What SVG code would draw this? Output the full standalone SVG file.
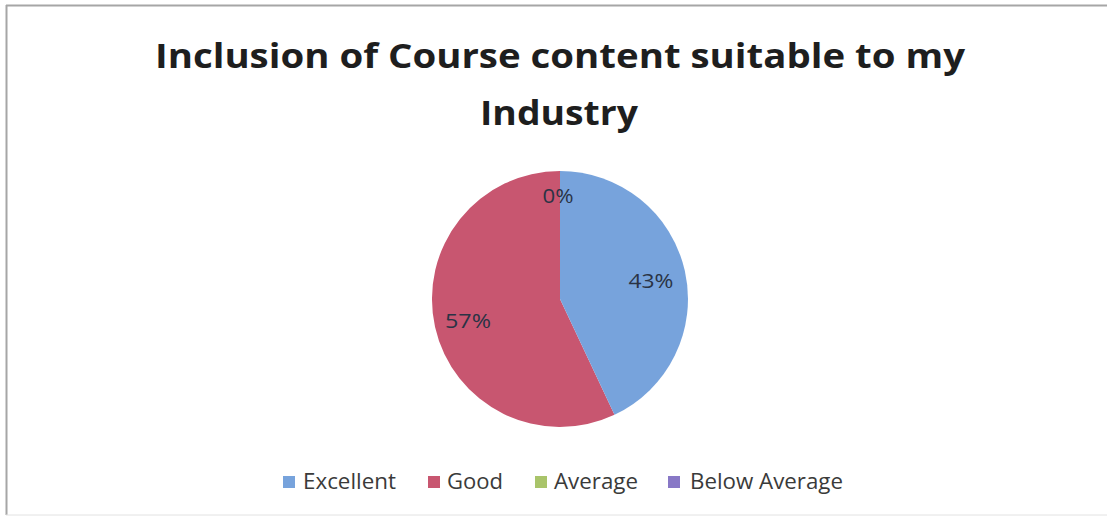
<svg xmlns="http://www.w3.org/2000/svg" width="1107" height="517" viewBox="0 0 1107 517">
<style>
.title{font-family:"Open Sans","Lato","Liberation Sans",sans-serif;font-weight:bold;font-size:34px;fill:#1e1e1e;text-anchor:middle}
.lbl{font-family:"Open Sans","Lato","Liberation Sans",sans-serif;font-size:20px;fill:#2a3345;text-anchor:middle}
.leg{font-family:"Open Sans","Lato","Liberation Sans",sans-serif;font-size:21px;fill:#3a3a3a}
</style>
<rect x="0" y="0" width="1107" height="517" fill="#ffffff"/>
<g id="frame">
<line x1="6" y1="5.5" x2="1107" y2="5.5" stroke="#a6a6a6" stroke-width="2"/>
<line x1="6.5" y1="5" x2="6.5" y2="515" stroke="#a6a6a6" stroke-width="2"/>
<line x1="6" y1="515" x2="1107" y2="515" stroke="#e2e2e2" stroke-width="1"/>
</g>
<g id="title">
<text class="title" x="560" y="68" textLength="810" lengthAdjust="spacingAndGlyphs">Inclusion of Course content suitable to my</text>
<text class="title" x="559" y="125" textLength="158" lengthAdjust="spacingAndGlyphs">Industry</text>
</g>
<g id="pie">
<g id="slice-good">
<path d="M560,299 L560,171 A128,128 0 1 0 614.5,414.8 Z" fill="#c85670"/>
</g>
<g id="slice-excellent">
<path d="M560,299 L560,171 A128,128 0 0 1 614.5,414.8 Z" fill="#77a3dc"/>
</g>
<g id="labels">
<text class="lbl" x="558" y="203" textLength="31" lengthAdjust="spacingAndGlyphs">0%</text>
<text class="lbl" x="651" y="288" textLength="45" lengthAdjust="spacingAndGlyphs">43%</text>
<text class="lbl" x="468" y="328" textLength="46" lengthAdjust="spacingAndGlyphs">57%</text>
</g>
</g>
<g id="legend">
<rect x="283" y="476" width="12" height="12" fill="#77a3dc"/>
<text class="leg" x="303" y="489" textLength="93" lengthAdjust="spacingAndGlyphs">Excellent</text>
<rect x="428" y="476" width="12" height="12" fill="#c85670"/>
<text class="leg" x="447" y="489" textLength="56" lengthAdjust="spacingAndGlyphs">Good</text>
<rect x="535" y="476" width="12" height="12" fill="#a9c46a"/>
<text class="leg" x="554" y="489" textLength="84" lengthAdjust="spacingAndGlyphs">Average</text>
<rect x="668" y="476" width="12" height="12" fill="#8878c6"/>
<text class="leg" x="690" y="489" textLength="153" lengthAdjust="spacingAndGlyphs">Below Average</text>
</g>
</svg>
